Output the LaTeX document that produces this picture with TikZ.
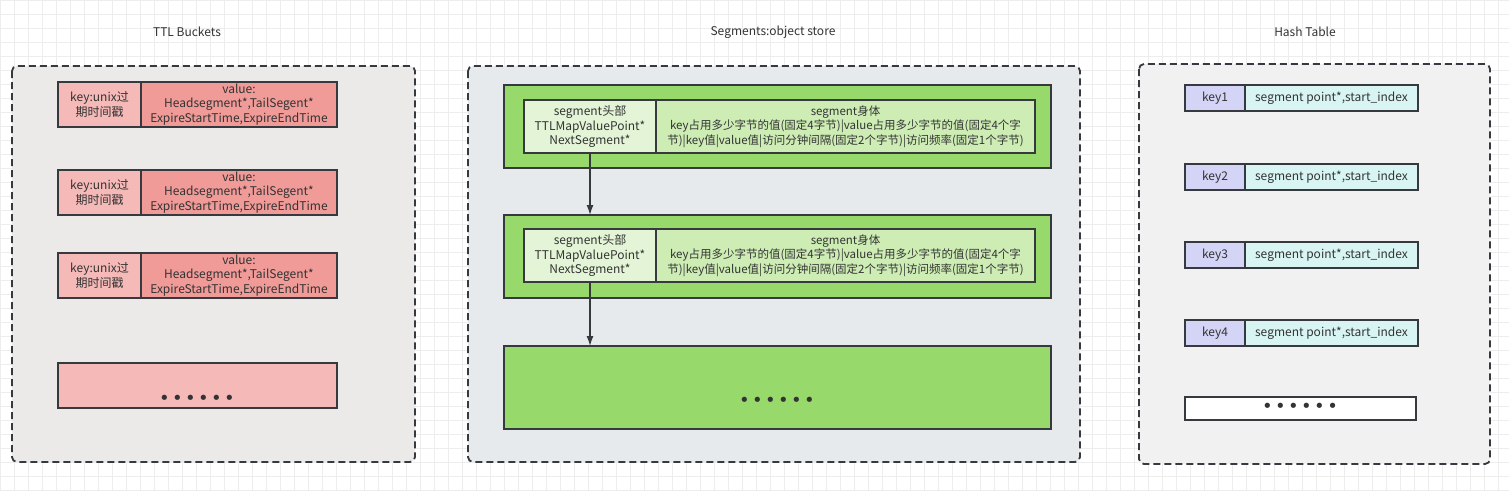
\documentclass[tikz,border=0pt]{standalone}
\usepackage{fontspec}
\setmainfont{Noto Sans CJK SC}
\newfontfamily\dotfont{DejaVu Sans}
\usetikzlibrary{positioning,arrows.meta}
\definecolor{txtgray}{HTML}{333333}
\definecolor{linegray}{HTML}{36393D}
\definecolor{gridgray}{HTML}{EDEDED}
\definecolor{ttlbg}{HTML}{ECEAE8}
\definecolor{segbg}{HTML}{E6EAED}
\definecolor{hashbg}{HTML}{F1F1F1}
\definecolor{keypink}{HTML}{F5B9B8}
\definecolor{valpink}{HTML}{F09B98}
\definecolor{seggreen}{HTML}{97D96A}
\definecolor{headgreen}{HTML}{E3F5D6}
\definecolor{bodygreen}{HTML}{CDEDB5}
\definecolor{keyblue}{HTML}{D4D4F7}
\definecolor{valcyan}{HTML}{D8F5F3}
\newcommand{\dotrow}{{\dotfont\fontsize{18}{18}\selectfont
  •\kern2.4pt•\kern2.4pt•\kern2.4pt•\kern2.4pt•\kern2.4pt•}}

\begin{document}
\begin{tikzpicture}[x=1pt,y=-1pt,
  every node/.style = {font=\fontsize{12}{14.5}\selectfont, text=txtgray,
    align=center, inner sep=0pt, outer sep=0pt},
  cell/.style = {draw=linegray, line width=1.5pt},
  panel/.style = {draw=linegray, line width=1.8pt, dash pattern=on 7pt off 4pt,
    rounded corners=5pt},
  link/.style = {draw=linegray, line width=1.3pt, -{Latex[length=10pt,width=7pt]}},
  ttlkey/.style = {cell, fill=keypink, minimum width=83pt, minimum height=45pt},
  ttlval/.style = {cell, fill=valpink, minimum width=196pt, minimum height=45pt},
  seghead/.style = {cell, fill=headgreen, minimum width=132pt, minimum height=53pt},
  segbody/.style = {cell, fill=bodygreen, minimum width=379pt, minimum height=53pt,
    font=\fontsize{11.5}{14.5}\selectfont},
  segbox/.style = {cell, fill=seggreen, minimum width=547pt, minimum height=83pt},
  hashkey/.style = {cell, fill=keyblue, minimum width=60pt, minimum height=26pt},
  hashval/.style = {cell, fill=valcyan, minimum width=173pt, minimum height=26pt}
  ]
  \useasboundingbox (0,0) rectangle (1509,490);
  \fill[white] (0,0) rectangle (1509,490);
  \draw[gridgray, line width=0.6pt, step=14pt] (0,0) grid (1509,490);

  % panels
  \draw[panel, fill=ttlbg] (12,66) rectangle (415,462);
  \draw[panel, fill=segbg] (468,66) rectangle (1080,462);
  \draw[panel, fill=hashbg] (1139,64) rectangle (1490,464);

  \node (ttltitle) at (187,32) {TTL Buckets};
  \node (segtitle) at (773,32) {Segments:object store};
  \node (hashtitle) at (1305,32) {Hash Table};

  % TTL buckets
  \foreach \y/\n in {82/1,170/2,253/3} {
    \node[ttlkey, anchor=north west] (k\n) at (58,\y) {key:unix过\\期时间戳};
    \node[ttlval, right=0pt of k\n] (v\n) {value:\\Headsegment*,TailSegent*\\ExpireStartTime,ExpireEndTime};
  }
  \node[cell, fill=keypink, anchor=north west, minimum width=279pt, minimum height=45pt] (kmore) at (58,363) {};
  \node (kdots) at (197,400) {\dotrow};

  % segments
  \node[segbox, anchor=north west] (g1) at (504,85) {};
  \node[segbox, anchor=north west] (g2) at (504,215) {};
  \node[segbox, anchor=north west] (g3) at (504,346) {};
  \foreach \y/\n in {100/1,229/2} {
    \node[seghead, anchor=north west] (h\n) at (524,\y) {segment头部\\TTLMapValuePoint*\\NextSegment*};
    \node[segbody, right=0pt of h\n] (b\n) {segment身体\\key占用多少字节的值(固定4字节)|value占用多少字节的值(固定4个字\\节)|key值|value值|访问分钟间隔(固定2个字节)|访问频率(固定1个字节)};
  }
  \node (gdots) at (777,402) {\dotrow};
  \draw[link] (h1.south) -- (h1.south |- g2.north);
  \draw[link] (h2.south) -- (h2.south |- g3.north);

  % hash table
  \foreach \y/\n in {85/1,164/2,242/3,320/4} {
    \node[hashkey, anchor=north west] (hk\n) at (1185,\y) {key\n};
    \node[hashval, right=0pt of hk\n] (hv\n) {segment point*,start\_index};
  }
  \node[cell, fill=white, anchor=north west, minimum width=231pt, minimum height=23pt] (hmore) at (1185,397) {};
  \node (hdots) at (1300,408) {\dotrow};
\end{tikzpicture}
\end{document}
